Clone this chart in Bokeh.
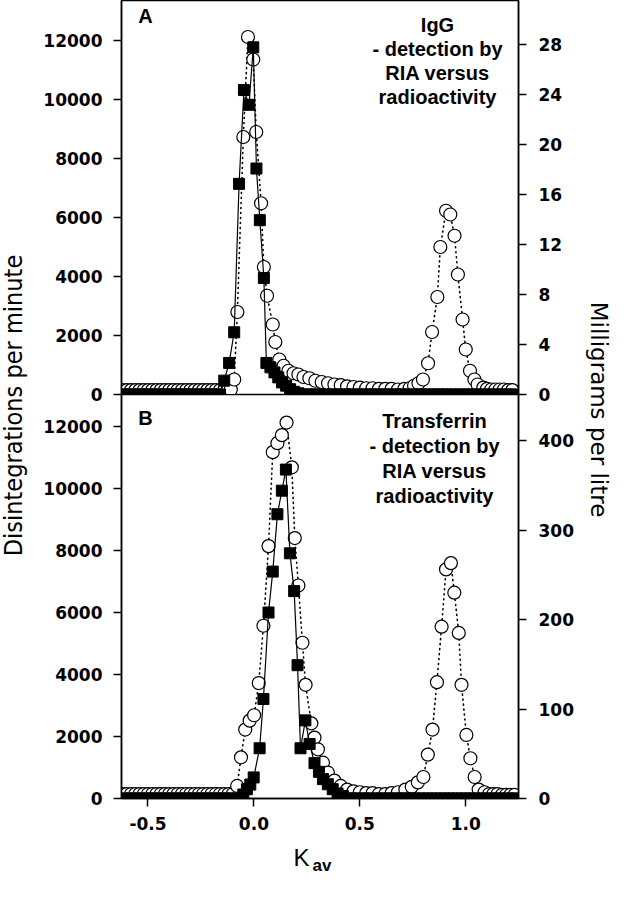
import math
from bokeh.plotting import figure
from bokeh.layouts import row, column
from bokeh.models import Range1d, LinearAxis, FixedTicker, Label, PrintfTickFormatter
from bokeh.core.properties import value
from bokeh.embed import file_html
from bokeh.resources import INLINE

# ---------------- data ----------------
# Panel A (IgG): squares = radioactivity (DPM, left axis); circles = RIA (mg/L, right axis)
A_sq_x = [-0.62, -0.60, -0.58, -0.56, -0.54, -0.52, -0.50, -0.48, -0.46, -0.44, -0.42, -0.40,
          -0.38, -0.36, -0.34, -0.32, -0.30, -0.28, -0.26, -0.24, -0.22, -0.20, -0.18, -0.16,
          -0.140, -0.117, -0.093, -0.070, -0.047, -0.023, -0.003, 0.012, 0.028, 0.047, 0.059,
          0.078, 0.097, 0.115, 0.133, 0.152, 0.171, 0.190, 0.210,
          0.23, 0.25, 0.27, 0.29, 0.31, 0.33, 0.35, 0.37, 0.39, 0.41, 0.43, 0.45, 0.47, 0.49,
          0.51, 0.53, 0.55, 0.57, 0.59, 0.61, 0.63, 0.65, 0.67, 0.69, 0.71, 0.73, 0.75, 0.77,
          0.79, 0.81, 0.83, 0.85, 0.87, 0.89, 0.91, 0.93, 0.95, 0.97, 0.99, 1.01, 1.03, 1.05,
          1.07, 1.09, 1.11, 1.13, 1.15, 1.17, 1.19, 1.21, 1.23]
A_sq_y = [0, 0, 0, 0, 0, 0, 0, 0, 0, 0, 0, 0,
          0, 0, 0, 0, 0, 0, 0, 0, 0, 0, 0, 0,
          470, 1070, 2110, 7140, 10320, 9820, 11770, 7660, 5910, 3950, 1070,
          920, 750, 580, 410, 300, 180, 90, 40,
          0, 0, 0, 0, 0, 0, 0, 0, 0, 0, 0, 0, 0, 0,
          0, 0, 0, 0, 0, 0, 0, 0, 0, 0, 0, 0, 0, 0,
          0, 0, 0, 0, 0, 0, 0, 0, 0, 0, 0, 0, 0, 0,
          0, 0, 0, 0, 0, 0, 0, 0, 0]

A_ci_x = [-0.62, -0.60, -0.58, -0.56, -0.54, -0.52, -0.50, -0.48, -0.46, -0.44, -0.42, -0.40,
          -0.38, -0.36, -0.34, -0.32, -0.30, -0.28, -0.26, -0.24, -0.22, -0.20, -0.18, -0.16,
          -0.14, -0.125,
          -0.109, -0.093, -0.078, -0.050, -0.028, -0.003, 0.011, 0.034, 0.047, 0.062, 0.089,
          0.101, 0.120, 0.140, 0.163, 0.187, 0.210, 0.234, 0.262, 0.290, 0.320, 0.350, 0.380,
          0.410, 0.440, 0.470, 0.500, 0.530, 0.560, 0.590, 0.620, 0.650, 0.680, 0.710, 0.735,
          0.756, 0.777, 0.798, 0.822, 0.841, 0.866, 0.880, 0.907, 0.927, 0.947, 0.963, 0.985,
          1.000, 1.020, 1.041, 1.056, 1.083, 1.100, 1.120, 1.140, 1.160, 1.180, 1.200, 1.220]
A_ci_y = [0.35, 0.35, 0.35, 0.35, 0.35, 0.35, 0.35, 0.35, 0.35, 0.35, 0.35, 0.35,
          0.35, 0.35, 0.35, 0.35, 0.35, 0.35, 0.35, 0.35, 0.35, 0.35, 0.35, 0.35,
          0.35, 0.35,
          0.4, 1.2, 6.6, 20.6, 28.6, 26.8, 21.0, 15.3, 10.2, 7.9, 5.6,
          4.2, 2.8, 2.3, 1.9, 1.7, 1.6, 1.4, 1.3, 1.1, 1.0, 0.9, 0.8,
          0.75, 0.65, 0.6, 0.55, 0.5, 0.5, 0.45, 0.45, 0.45, 0.4, 0.45, 0.5,
          0.7, 0.9, 1.2, 2.5, 5.0, 7.8, 11.8, 14.7, 14.4, 12.7, 9.6, 6.0,
          3.6, 1.9, 1.2, 0.8, 0.55, 0.45, 0.4, 0.4, 0.4, 0.4, 0.35, 0.35]

# Panel B (Transferrin)
B_sq_x = [-0.62, -0.60, -0.58, -0.56, -0.54, -0.52, -0.50, -0.48, -0.46, -0.44, -0.42, -0.40,
          -0.38, -0.36, -0.34, -0.32, -0.30, -0.28, -0.26, -0.24, -0.22, -0.20, -0.18, -0.16,
          -0.14, -0.12, -0.10, -0.08,
          -0.050, -0.033, -0.017, -0.001, 0.027, 0.045, 0.069, 0.089, 0.111, 0.132, 0.151,
          0.170, 0.190, 0.206, 0.220, 0.243, 0.263, 0.286, 0.307, 0.326, 0.349, 0.372, 0.395,
          0.420,
          0.44, 0.46, 0.48, 0.50, 0.52, 0.54, 0.56, 0.58, 0.60, 0.62, 0.64, 0.66, 0.68, 0.70,
          0.72, 0.74, 0.76, 0.78, 0.80, 0.82, 0.84, 0.86, 0.88, 0.90, 0.92, 0.94, 0.96, 0.98,
          1.00, 1.02, 1.04, 1.06, 1.08, 1.10, 1.12, 1.14, 1.16, 1.18, 1.20, 1.22, 1.24]
B_sq_y = [0, 0, 0, 0, 0, 0, 0, 0, 0, 0, 0, 0,
          0, 0, 0, 0, 0, 0, 0, 0, 0, 0, 0, 0,
          0, 0, 0, 0,
          130, 300, 450, 680, 1620, 3210, 6000, 7320, 9170, 9930, 10610,
          7910, 6690, 4300, 1620, 2520, 1760, 1140, 860, 625, 460, 300, 160,
          80,
          0, 0, 0, 0, 0, 0, 0, 0, 0, 0, 0, 0, 0, 0,
          0, 0, 0, 0, 0, 0, 0, 0, 0, 0, 0, 0, 0, 0,
          0, 0, 0, 0, 0, 0, 0, 0, 0, 0, 0, 0, 0]

B_ci_x = [-0.62, -0.60, -0.58, -0.56, -0.54, -0.52, -0.50, -0.48, -0.46, -0.44, -0.42, -0.40,
          -0.38, -0.36, -0.34, -0.32, -0.30, -0.28, -0.26, -0.24, -0.22, -0.20, -0.18, -0.16,
          -0.14, -0.12, -0.10,
          -0.079, -0.061, -0.041, -0.020, 0.001, 0.023, 0.045, 0.069, 0.089, 0.111, 0.132,
          0.154, 0.179, 0.193, 0.210, 0.229, 0.244, 0.271, 0.286, 0.302, 0.326, 0.349, 0.380,
          0.410, 0.440, 0.470, 0.500, 0.530, 0.560, 0.590, 0.620, 0.650, 0.680, 0.715, 0.745,
          0.774, 0.800, 0.821, 0.843, 0.864, 0.886, 0.907, 0.930, 0.946, 0.967, 0.980, 1.003,
          1.022, 1.042, 1.061, 1.089, 1.110, 1.130, 1.150, 1.170, 1.190, 1.210, 1.230]
B_ci_y = [5, 5, 5, 5, 5, 5, 5, 5, 5, 5, 5, 5,
          5, 5, 5, 5, 5, 5, 5, 5, 5, 5, 5, 5,
          5, 5, 5,
          14, 46, 77, 87, 93, 129, 193, 282, 387, 397, 406,
          420, 370, 291, 238, 174, 127, 84, 68, 55, 40, 29, 20,
          14, 10, 8, 7, 6, 6, 5, 5, 6, 7, 10, 13,
          18, 24, 49, 77, 130, 192, 256, 263, 230, 185, 127, 71,
          45, 24, 10, 7, 5, 5, 5, 4, 4, 4, 4]

X_TICKS = [-0.5, 0.0, 0.5, 1.0]
DPM_TICKS = [0, 2000, 4000, 6000, 8000, 10000, 12000]
A_MG_TICKS = [0, 4, 8, 12, 16, 20, 24, 28]
B_MG_TICKS = [0, 100, 200, 300, 400]

A_TEXT = ["IgG", "- detection by", "RIA versus", "radioactivity"]
B_TEXT = ["Transferrin", "- detection by", "RIA versus", "radioactivity"]

# ---------------- styling ----------------
FONT = "Liberation Sans"
TICK_FONT = "DejaVu Sans"
X_START, X_END = -0.625, 1.249
W_MAIN = 542          # page x 48 .. 590
LB, RB = 77, 64       # frame 125 .. 526
OVER = 12             # overlap of panel A's canvas under panel B
H_A, H_B, H_K = 394, 444, 37
H_ALL = H_A + H_B + H_K


def style_axis(ax, size="17px", standoff=11):
    ax.axis_line_color = "black"
    ax.axis_line_width = 1.5
    ax.major_tick_line_color = "black"
    ax.major_tick_line_width = 1.5
    ax.major_tick_out = 8
    ax.major_tick_in = 0
    ax.minor_tick_out = 0
    ax.minor_tick_in = 0
    ax.major_label_text_font = TICK_FONT
    ax.major_label_text_font_style = "bold"
    ax.major_label_text_font_size = size
    ax.major_label_text_color = "black"
    ax.major_label_standoff = standoff


def base_fig(height, y_end, mg_end, bottom, show_x, **kw):
    p = figure(width=W_MAIN, height=height,
               x_range=Range1d(X_START, X_END), y_range=Range1d(0, y_end),
               output_backend="svg", toolbar_location=None,
               x_axis_location="below" if show_x else None,
               min_border_left=LB, min_border_right=RB,
               min_border_top=0, min_border_bottom=bottom, **kw)
    p.grid.visible = False
    p.outline_line_color = "black"
    p.outline_line_width = 1.5
    p.background_fill_color = "white"
    p.border_fill_color = "white"
    p.extra_y_ranges = {"mg": Range1d(0, mg_end)}
    style_axis(p.yaxis[0])
    p.yaxis[0].ticker = FixedTicker(ticks=DPM_TICKS)
    p.yaxis[0].formatter = PrintfTickFormatter(format="%d")
    rax = LinearAxis(y_range_name="mg", ticker=FixedTicker(ticks=[]))
    style_axis(rax, standoff=12)
    p.add_layout(rax, "right")
    return p, rax


def draw(p, cx, cy, sx, sy):
    p.line(cx, cy, y_range_name="mg", line_color="black", line_width=1.6,
           line_dash="1 4", line_cap="round")
    p.scatter(cx, cy, y_range_name="mg", marker="circle", size=13,
              fill_color="white", line_color="black", line_width=1.2)
    p.line(sx, sy, line_color="black", line_width=1.2)
    p.scatter(sx, sy, marker="square", size=11, fill_color="black", line_color="black")


def add_texts(p, letter, letter_y, lines, ys, cx):
    p.add_layout(Label(x=24, y=letter_y, x_units="screen", y_units="screen", text=letter,
                       text_font=FONT, text_font_style="bold", text_font_size="20px",
                       text_color="black", text_align="center", text_baseline="middle"))
    for t, yy in zip(lines, ys):
        p.add_layout(Label(x=cx, y=yy, x_units="screen", y_units="screen", text=t,
                           text_font=FONT, text_font_style="bold", text_font_size="20px",
                           text_color="black", text_align="center", text_baseline="middle"))


# Panel A (canvas extends OVER px below its frame, under panel B's transparent border)
pA, raxA = base_fig(H_A + OVER, 13356, 31.52, OVER, False)
raxA.ticker = FixedTicker(ticks=A_MG_TICKS)
draw(pA, A_ci_x, A_ci_y, A_sq_x, A_sq_y)
# frame bottom at page y 402
add_texts(pA, "A", 402 - 23, A_TEXT, [402 - 32, 402 - 56, 402 - 80, 402 - 104], 316)

# Panel B
pB, raxB = base_fig(H_B, 13032, 451.4, 40, True, margin=(-OVER, 0, 0, 0))
pB.border_fill_alpha = 0
raxB.ticker = FixedTicker(ticks=B_MG_TICKS)
style_axis(pB.xaxis[0], "17px", standoff=10)
pB.xaxis[0].ticker = FixedTicker(ticks=X_TICKS)
pB.xaxis[0].formatter = PrintfTickFormatter(format="%.1f")
draw(pB, B_ci_x, B_ci_y, B_sq_x, B_sq_y)
# frame bottom at page y 806
add_texts(pB, "B", 806 - 425, B_TEXT, [806 - 428, 806 - 453, 806 - 478, 806 - 503], 313)


def blank_fig(width, height):
    f = figure(width=width, height=height, x_range=Range1d(0, 1), y_range=Range1d(0, 1),
               output_backend="svg", toolbar_location=None,
               x_axis_location=None, y_axis_location=None,
               min_border_left=0, min_border_right=0, min_border_top=0, min_border_bottom=0)
    f.grid.visible = False
    f.outline_line_color = None
    f.border_fill_color = "white"
    f.background_fill_color = "white"
    return f


# x-axis title K_av (frame of this strip is aligned with the panels' frames: left at page x 125)
kfig = blank_fig(W_MAIN, H_K)
kfig.add_layout(Label(x=180, y=18, x_units="screen", y_units="screen", text="K",
                      text_font=FONT, text_font_size="24px", text_color="black",
                      text_align="center", text_baseline="middle"))
kfig.add_layout(Label(x=191, y=10, x_units="screen", y_units="screen", text="av",
                      text_font=FONT, text_font_style="bold", text_font_size="17px",
                      text_color="black", text_align="left", text_baseline="middle"))

# shared y-axis titles (page bottom of the strips at y 883)
left = blank_fig(40, H_ALL)
left.text(x=[0.33], y=[(883 - 413) / H_ALL], text=["Disintegrations per minute"],
          angle=math.pi / 2, text_font=value("DejaVu Sans Condensed"), text_font_size="25px",
          text_color="black", text_align="center", text_baseline="middle")

right = blank_fig(29, H_ALL)
right.add_layout(Label(x=16, y=883 - 417, x_units="screen", y_units="screen",
                       text="Milligrams per litre", angle=-math.pi / 2,
                       text_font="DejaVu Sans", text_font_size="23px", text_color="black",
                       text_align="center", text_baseline="middle"))

layout = row(left, column(pA, pB, kfig), right)
open("out.html", "w").write(file_html(layout, INLINE))
